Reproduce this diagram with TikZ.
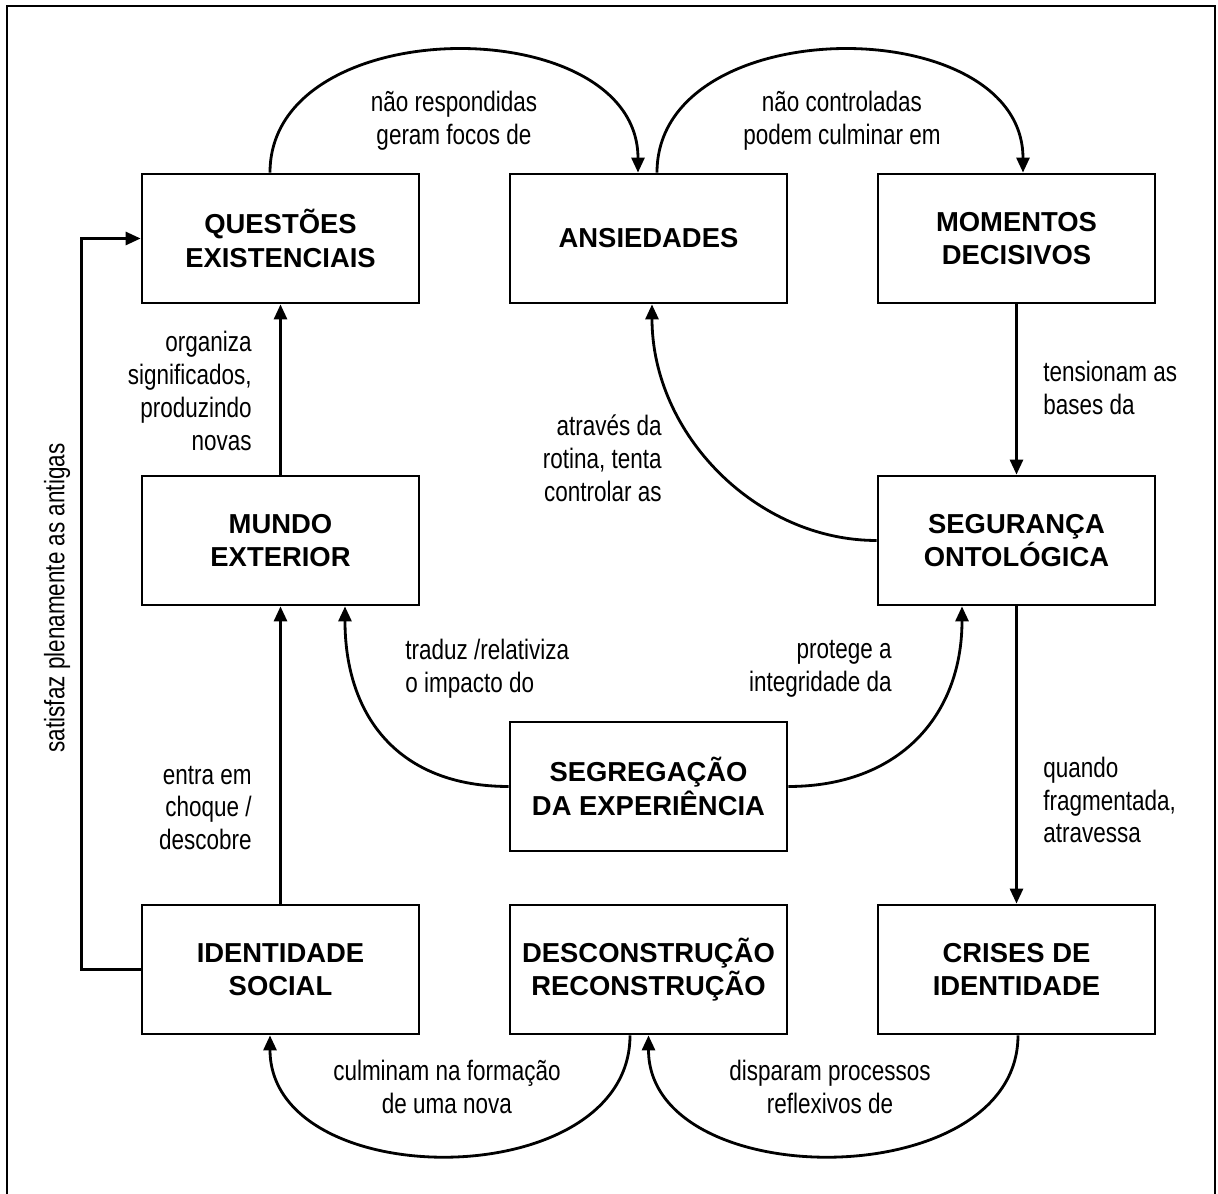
\documentclass[tikz,border=0pt]{standalone}
\usepackage{fontspec}
\setmainfont{Liberation Sans}
\newfontfamily\narrowfont[FakeStretch=0.8]{Liberation Sans}
\usetikzlibrary{arrows.meta}

\tikzstyle{box}=[draw, line width=1.6pt, minimum width=5.54cm, minimum height=2.58cm, inner sep=0pt, align=center, font=\fontsize{15.6}{19}\selectfont\bfseries]
\tikzstyle{edge}=[draw, line width=1.6pt, -{Triangle[length=0.3cm, width=0.26cm]}]
\tikzstyle{lbl}=[inner sep=0pt, font=\narrowfont\fontsize{16}{18.7}\selectfont]

\begin{document}
\begin{tikzpicture}[x=0.02cm, y=0.02cm]
	\useasboundingbox (0,0) rectangle (1218,1194);
	\draw[line width=1.6pt] (7,0) -- (7,1188) -- (1215,1188) -- (1215,0);
	% boxes
	\foreach \pos/\name/\txt in {{(280.5,955.5)/qe/QUESTÕES\\EXISTENCIAIS}, {(648.5,955.5)/ans/ANSIEDADES}, {(1016.5,955.5)/md/MOMENTOS\\DECISIVOS},
		{(280.5,653.5)/mw/MUNDO\\EXTERIOR}, {(1016.5,653.5)/so/SEGURANÇA\\ONTOLÓGICA}, {(648.5,407.5)/seg/SEGREGAÇÃO\\DA EXPERIÊNCIA},
		{(280.5,224.5)/is/IDENTIDADE\\SOCIAL}, {(648.5,224.5)/dr/DESCONSTRUÇÃO\\RECONSTRUÇÃO}, {(1016.5,224.5)/ci/CRISES DE\\IDENTIDADE}}
		\node[box] (\name) at \pos {\txt};
	% straight links
	\foreach \source/\dest in {mw/qe, md/so, so/ci, is/mw}
		\path[edge] (\source) -- (\dest);
	% curved links
	\path[edge] ([xshift=-0.21cm]qe.north) .. controls +(0,163) and +(0,163) .. ([xshift=-0.21cm]ans.north);
	\path[edge] ([xshift=0.17cm]ans.north) .. controls +(0,163) and +(0,163) .. ([xshift=0.13cm]md.north);
	\path[edge] (so.west) .. controls +(-120,0) and +(0,-130) .. ([xshift=0.07cm]ans.south);
	\path[edge] (seg.west) .. controls +(-110,0) and +(0,-110) .. ([xshift=1.29cm]mw.south);
	\path[edge] (seg.east) .. controls +(110,0) and +(0,-110) .. ([xshift=-1.09cm]so.south);
	\path[edge] ([xshift=-0.37cm]dr.south) .. controls +(0,-160) and +(0,-160) .. ([xshift=-0.21cm]is.south);
	\path[edge] ([xshift=0.03cm]ci.south) .. controls +(0,-160) and +(0,-160) .. (dr.south);
	\path[edge] (is.west) -- ++(-59,0) |- (qe.west);
	% labels
	\node[lbl, align=center] (l1) at (454,1073) {não respondidas\\geram focos de};
	\node[lbl, align=center] (l2) at (842,1073) {não controladas\\podem culminar em};
	\node[lbl, align=left, anchor=west] (l3) at (1043,806) {tensionam as\\bases da};
	\node[lbl, align=right, anchor=east] (l4) at (662,736) {através da\\rotina, tenta\\controlar as};
	\node[lbl, align=right, anchor=east] (l5) at (252,803) {organiza\\significados,\\produzindo\\novas};
	\node[lbl, align=left, anchor=west] (l6) at (405,525) {traduz /relativiza\\o impacto do};
	\node[lbl, align=right, anchor=east] (l7) at (892,525) {protege a\\integridade da};
	\node[lbl, align=left, anchor=west] (l8) at (1043,394) {quando\\fragmentada,\\atravessa};
	\node[lbl, align=right, anchor=east] (l9) at (252,386) {entra em\\choque /\\descobre};
	\node[lbl, rotate=90] (l10) at (57,596) {satisfaz plenamente as antigas};
	\node[lbl, align=center] (l11) at (447,107) {culminam na formação\\de uma nova};
	\node[lbl, align=center] (l12) at (830,107) {disparam processos\\reflexivos de};
\end{tikzpicture}
\end{document}
